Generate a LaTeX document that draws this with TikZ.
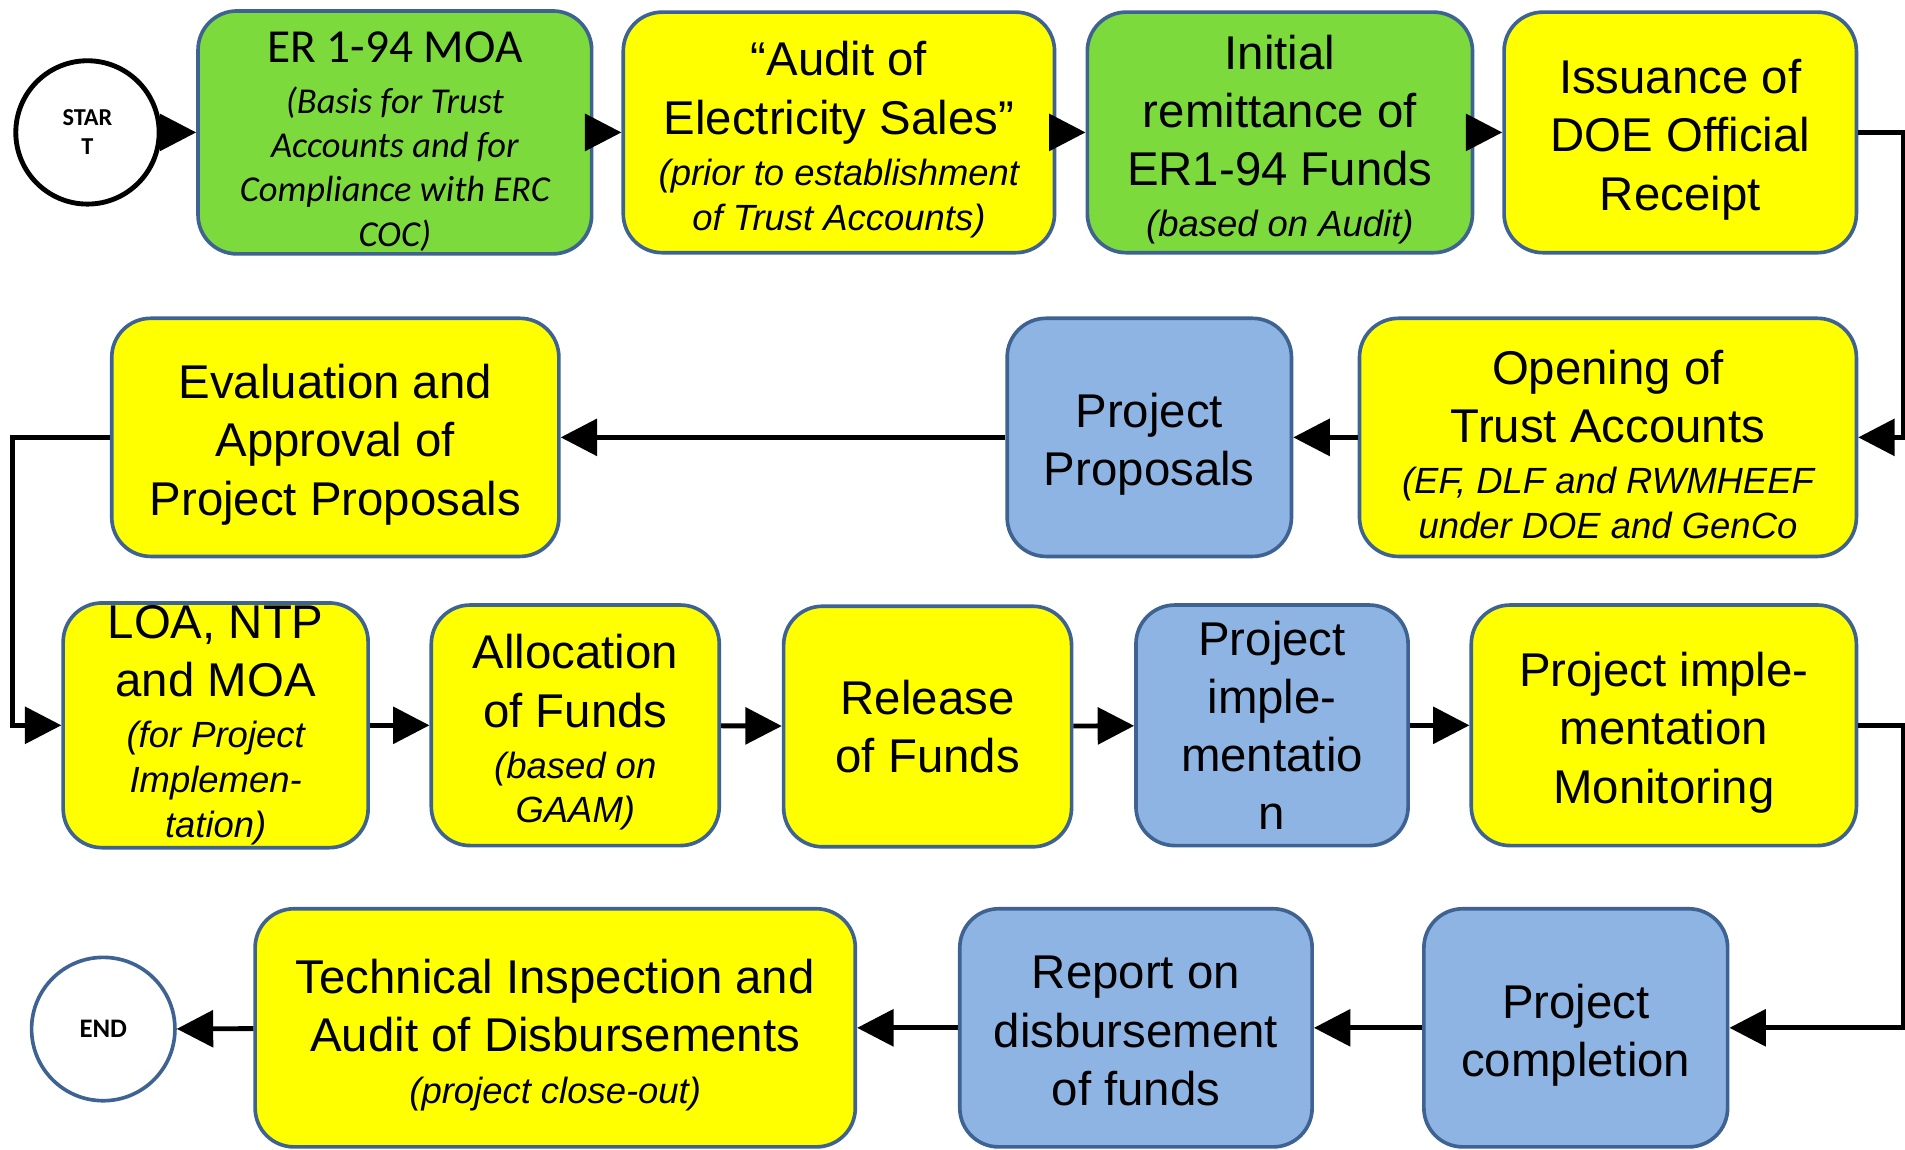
\documentclass[tikz,border=0pt]{standalone}
\usepackage{fontspec}
\setmainfont{Liberation Sans}
\newfontfamily\calibri{Carlito}
\usetikzlibrary{arrows.meta}
\definecolor{boxgreen}{RGB}{124,218,60}
\definecolor{boxyellow}{RGB}{255,255,0}
\definecolor{boxblue}{RGB}{142,180,227}
\definecolor{boxborder}{RGB}{62,99,146}
\newcommand{\subtxt}[1]{{\fontsize{15}{18.5}\selectfont\itshape #1}}
\newcommand{\topgap}[1][20pt]{\rule{0pt}{#1}}
\begin{document}
\begin{tikzpicture}[x=0.5pt, y=-0.5pt,
  task node/.style={rectangle, rounded corners=16pt, draw=boxborder, line width=1.5pt,
    align=center, inner sep=1pt, font=\fontsize{19.5}{24}\selectfont},
  green node/.style={task node, fill=boxgreen},
  yellow node/.style={task node, fill=boxyellow},
  blue node/.style={task node, fill=boxblue},
  term node/.style={circle, minimum size=59pt, inner sep=0pt, fill=white, align=center},
  flow/.style={line width=2pt, -{Triangle[length=15pt,width=15pt]}}]
  \useasboundingbox (0,0) rectangle (1568,946);
  % first row
  \node[term node, draw=black, line width=2pt, font=\calibri\bfseries\fontsize{10}{12}\selectfont] (start) at (72,109) {STAR\\T};
  \node[green node, minimum width=162pt, minimum height=99pt, font=\calibri\fontsize{15}{18.3}\selectfont] (er) at (325,109)
    {\topgap{\fontsize{19.5}{24}\selectfont ER 1-94 MOA}\\[2.7pt]\itshape (Basis for Trust\\\itshape Accounts and for\\\itshape Compliance with ERC\\\itshape COC)};
  \node[yellow node, minimum width=177.5pt, minimum height=99pt] (audit) at (690.5,109)
    {\topgap``Audit of\\Electricity Sales''\\[-3pt]\subtxt{(prior to establishment}\\[-5.5pt]\subtxt{of Trust Accounts)}};
  \node[green node, minimum width=158.5pt, minimum height=99pt] (remit) at (1053.5,109)
    {\topgap Initial\\remittance of\\ER1-94 Funds\\[-3pt]\subtxt{(based on Audit)}};
  \node[yellow node, minimum width=145pt, minimum height=99pt] (issue) at (1383,109)
    {\topgap Issuance of\\DOE Official\\Receipt};
  % second row
  \node[yellow node, minimum width=184pt, minimum height=98pt] (evalbox) at (276,360)
    {\topgap Evaluation and\\Approval of\\Project Proposals};
  \node[blue node, minimum width=117pt, minimum height=98pt] (proposals) at (946,360)
    {\topgap Project\\Proposals};
  \node[yellow node, minimum width=204.5pt, minimum height=98pt] (opening) at (1323.5,360)
    {\topgap Opening of\\Trust Accounts\\[-3pt]\subtxt{(EF, DLF and RWMHEEF}\\[-5.5pt]\subtxt{under DOE and GenCo}};
  % third row
  \node[yellow node, minimum width=125.5pt, minimum height=99pt] (loa) at (177.5,597)
    {LOA, NTP\\and MOA\\[-3pt]\subtxt{(for Project}\\[-5.5pt]\subtxt{Implemen-}\\[-5.5pt]\subtxt{tation)}};
  \node[yellow node, minimum width=118.5pt, minimum height=99pt] (alloc) at (473.5,597)
    {\topgap Allocation\\of Funds\\[-3pt]\subtxt{(based on}\\[-5.5pt]\subtxt{GAAM)}};
  \node[yellow node, minimum width=118.5pt, minimum height=99pt] (release) at (763.5,598)
    {Release\\of Funds};
  \node[blue node, minimum width=112pt, minimum height=99pt] (implement) at (1047,597)
    {Project\\imple-\\mentatio\\n};
  \node[yellow node, minimum width=158.5pt, minimum height=99pt] (monitor) at (1369.5,597)
    {\topgap Project imple-\\mentation\\Monitoring};
  % fourth row
  \node[term node, draw=boxborder, line width=1.5pt, font=\calibri\bfseries\fontsize{11}{13}\selectfont] (endnode) at (85,847) {END};
  \node[yellow node, minimum width=247pt, minimum height=98pt] (inspect) at (457,846)
    {\topgap Technical Inspection and\\Audit of Disbursements\\[-3pt]\subtxt{(project close-out)}};
  \node[blue node, minimum width=145pt, minimum height=98pt] (report) at (935,846)
    {\topgap[16pt]Report on\\disbursement\\of funds};
  \node[blue node, minimum width=125pt, minimum height=98pt] (complete) at (1297,846)
    {\topgap Project\\completion};
  \path[flow]
    (start) edge (er)
    (er) edge (audit)
    (audit) edge (remit)
    (remit) edge (issue)
    (opening) edge (proposals)
    (proposals) edge (evalbox)
    (loa) edge (alloc)
    (alloc) edge (release)
    (release) edge (implement)
    (implement) edge (monitor)
    (complete) edge (report)
    (report) edge (inspect)
    (inspect) edge (endnode);
  \draw[flow] (issue.east) -- ++(37,0) |- (opening.east);
  \draw[flow] (evalbox.west) -- ++(-80,0) |- (loa.west);
  \draw[flow] (monitor.east) -- ++(37,0) |- (complete.east);
\end{tikzpicture}
\end{document}
